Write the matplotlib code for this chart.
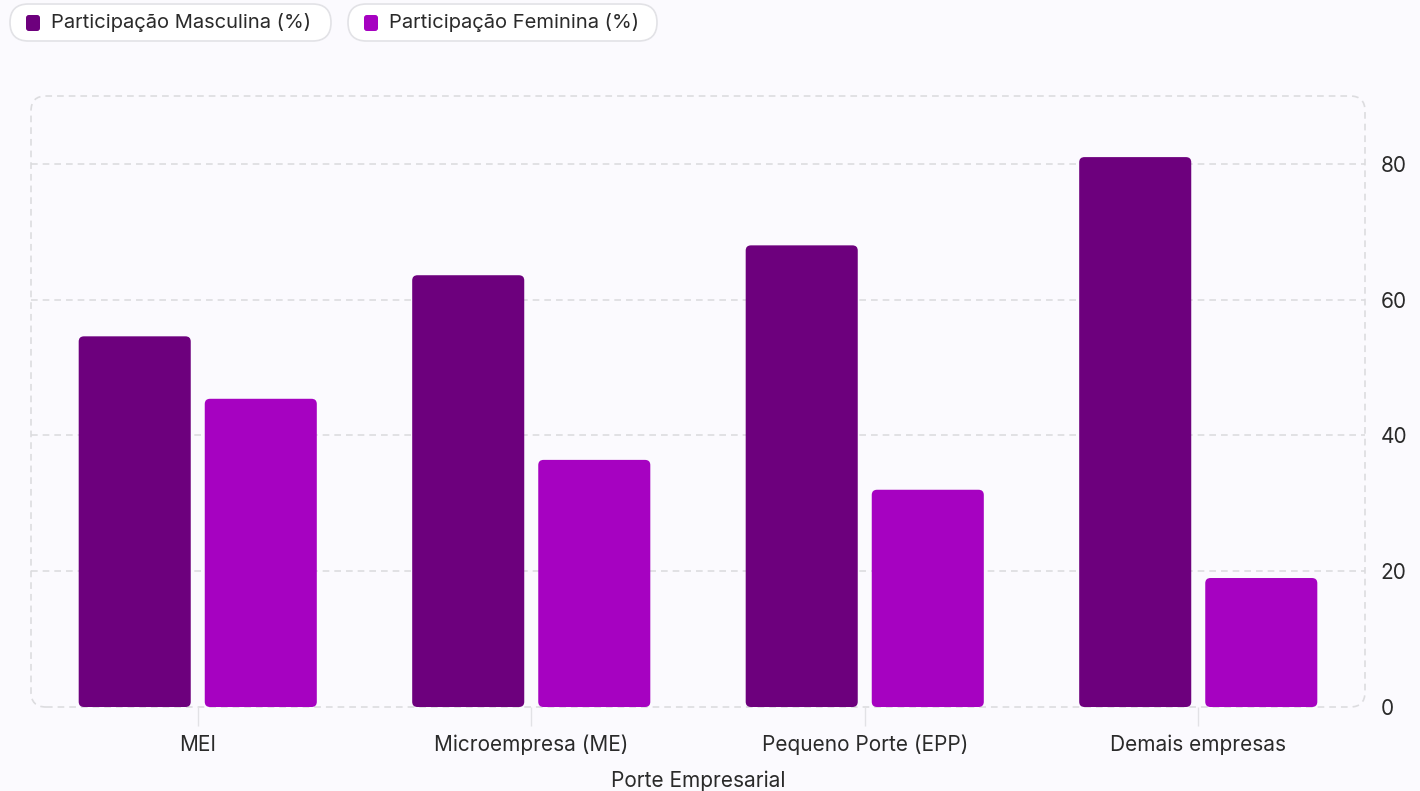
import matplotlib.pyplot as plt
from matplotlib.patches import FancyBboxPatch
import numpy as np

categories = ["MEI", "Microempresa (ME)", "Pequeno Porte (EPP)", "Demais empresas"]
masculina = [54.6, 63.6, 68.0, 81.0]
feminina = [45.4, 36.4, 32.0, 19.0]
series_names = ["Participação Masculina (%)", "Participação Feminina (%)"]
colors = ["#6D007D", "#A602C1"]

plt.rcParams["font.family"] = ["Inter", "DejaVu Sans"]
GRID = "#DCDCDF"
TEXT = "#2A2A2A"
BG = "#FBFAFE"

fig = plt.figure(figsize=(14.2, 7.91), dpi=100, facecolor=BG)
ax = fig.add_axes([31 / 1420, 1 - 707 / 791, 1334 / 1420, 611 / 791])
ax.set_facecolor(BG)

x = np.arange(len(categories))
width = 0.336
offset = 0.189

for vals, off, col in [(masculina, -offset, colors[0]), (feminina, offset, colors[1])]:
    bars = ax.bar(x + off, vals, width, color=col)
    for r in bars:
        r.set_visible(False)
        ax.add_patch(FancyBboxPatch((r.get_x(), r.get_y()), r.get_width(), r.get_height(),
                                    boxstyle="round,pad=0,rounding_size=0.016",
                                    mutation_aspect=48, facecolor=col, edgecolor="none",
                                    zorder=3))

ax.set_xlim(-0.5, 3.5)
ax.set_ylim(0, 90)

for s in ax.spines.values():
    s.set_visible(False)

# dashed rounded frame
ax.add_patch(FancyBboxPatch((0, 0), 1, 1, transform=ax.transAxes,
                            boxstyle="round,pad=0,rounding_size=0.0112",
                            mutation_aspect=2.18, facecolor="none", edgecolor=GRID,
                            linestyle=(0, (4, 3)), linewidth=1.2, zorder=1, clip_on=False))

for yv in [20, 40, 60, 80]:
    ax.axhline(yv, color=GRID, linestyle=(0, (4, 3)), linewidth=1.2, zorder=1)

ax.yaxis.tick_right()
ax.set_yticks([0, 20, 40, 60, 80])
ax.tick_params(axis="y", length=0, pad=11, labelsize=15, labelcolor=TEXT)
ax.set_xticks(x)
ax.set_xticklabels(categories)
ax.tick_params(axis="x", length=14, width=1.0, color="#E2E2E6", pad=6, labelsize=15,
               labelcolor=TEXT)
ax.set_xlabel("Porte Empresarial", fontsize=15, color=TEXT, labelpad=11)

# pill legend
pills = [(10, 331), (348, 657)]
for (x0, x1), name, col in zip(pills, series_names, colors):
    fig.patches.append(FancyBboxPatch((x0 / 1420, 1 - 41 / 791), (x1 - x0) / 1420, 37 / 791,
                                      transform=fig.transFigure,
                                      boxstyle="round,pad=0,rounding_size=0.013",
                                      mutation_aspect=1420 / 791, facecolor="white",
                                      edgecolor="#E2E2E6", linewidth=1.2))
    fig.patches.append(FancyBboxPatch(((x0 + 16) / 1420, 1 - 31 / 791), 14 / 1420, 16 / 791,
                                      transform=fig.transFigure,
                                      boxstyle="round,pad=0,rounding_size=0.002",
                                      mutation_aspect=1420 / 791, facecolor=col,
                                      edgecolor="none"))
    fig.text((x0 + 41) / 1420, 1 - 23 / 791, name, fontsize=14.5, color=TEXT,
             va="center", ha="left")

fig.savefig("out.png", dpi=100, facecolor=BG)
